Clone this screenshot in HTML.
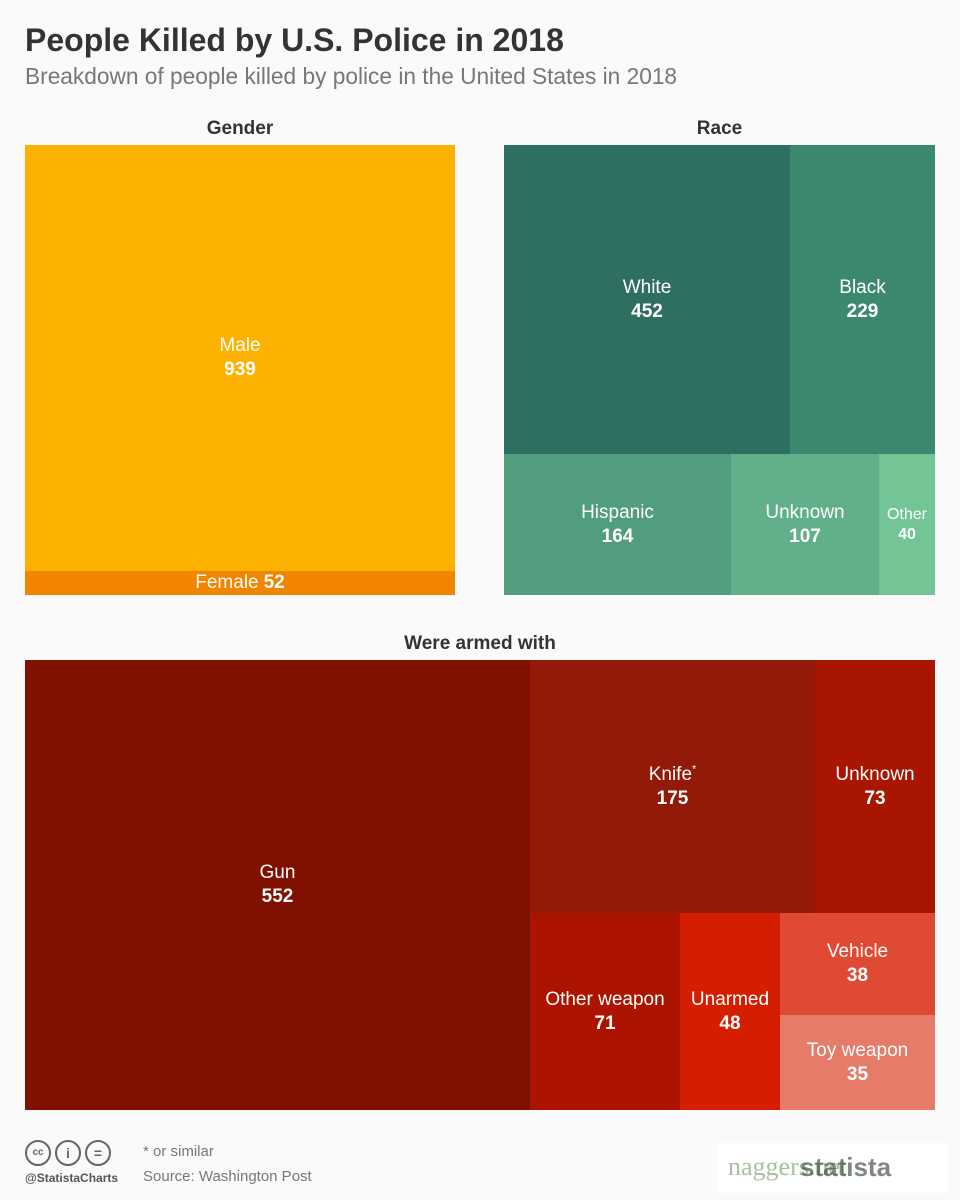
<!DOCTYPE html>
<html><head><meta charset="utf-8"><style>
body{margin:0;width:960px;height:1200px;background:#fafafa;font-family:"Liberation Sans",sans-serif;position:relative;overflow:hidden}
.a{position:absolute}
.b{position:absolute;color:#fff;display:flex;flex-direction:column;align-items:center;justify-content:center;text-align:center;font-size:19px;line-height:24px}
.b b{font-size:19px}
.h{position:absolute;font-weight:bold;font-size:19px;color:#333;text-align:center}
</style></head><body>
<div class="a" style="left:25px;top:22px;font-size:32px;font-weight:bold;color:#333">People Killed by U.S. Police in 2018</div>
<div class="a" style="left:25px;top:63px;font-size:22.7px;color:#777">Breakdown of people killed by police in the United States in 2018</div>
<div class="h" style="left:25px;width:430px;top:118px">Gender</div>
<div class="h" style="left:504px;width:431px;top:118px">Race</div>
<div class="h" style="left:25px;width:910px;top:633px">Were armed with</div>

<div class="b" style="left:25px;top:145px;width:430px;height:426px;background:#fdb100"><span>Male</span><b>939</b></div>
<div class="b" style="left:25px;top:571px;width:430px;height:24px;background:#f28500;flex-direction:row;gap:5px"><span>Female</span><b>52</b></div>

<div class="b" style="left:504px;top:145px;width:286px;height:309px;background:#2f6f62"><span>White</span><b>452</b></div>
<div class="b" style="left:790px;top:145px;width:145px;height:309px;background:#3d8870"><span>Black</span><b>229</b></div>
<div class="b" style="left:504px;top:454px;width:227px;height:141px;background:#529d7e"><span>Hispanic</span><b>164</b></div>
<div class="b" style="left:731px;top:454px;width:148px;height:141px;background:#62b08a"><span>Unknown</span><b>107</b></div>
<div class="b" style="left:879px;top:454px;width:56px;height:141px;background:#74c596;font-size:16px;line-height:20px"><span>Other</span><b style="font-size:16px">40</b></div>

<div class="b" style="left:25px;top:660px;width:505px;height:450px;background:#801000"><span>Gun</span><b>552</b></div>
<div class="b" style="left:530px;top:660px;width:285px;height:253px;background:#931909"><span>Knife<sup style="font-size:11px;line-height:0">*</sup></span><b>175</b></div>
<div class="b" style="left:815px;top:660px;width:120px;height:253px;background:#a81500"><span>Unknown</span><b>73</b></div>
<div class="b" style="left:530px;top:913px;width:150px;height:197px;background:#ac1400"><span>Other weapon</span><b>71</b></div>
<div class="b" style="left:680px;top:913px;width:100px;height:197px;background:#d51d00"><span>Unarmed</span><b>48</b></div>
<div class="b" style="left:780px;top:913px;width:155px;height:102px;background:#e04a35"><span>Vehicle</span><b>38</b></div>
<div class="b" style="left:780px;top:1015px;width:155px;height:95px;background:#e57b68"><span>Toy weapon</span><b>35</b></div>

<div class="a" style="left:25px;top:1140px;display:flex;gap:4px">
<div style="width:22px;height:22px;border:2px solid #666;border-radius:50%;font-size:10px;font-weight:bold;color:#666;text-align:center;line-height:22px">cc</div>
<div style="width:22px;height:22px;border:2px solid #666;border-radius:50%;font-size:14px;font-weight:bold;color:#666;text-align:center;line-height:22px">i</div>
<div style="width:22px;height:22px;border:2px solid #666;border-radius:50%;font-size:14px;font-weight:bold;color:#666;text-align:center;line-height:22px">=</div>
</div>
<div class="a" style="left:25px;top:1171px;font-size:12px;font-weight:bold;color:#555">@StatistaCharts</div>
<div class="a" style="left:143px;top:1143px;font-size:15px;color:#777">* or similar</div>
<div class="a" style="left:143px;top:1168px;font-size:15px;color:#777">Source: Washington Post</div>
<div class="a" style="left:718px;top:1143px;width:230px;height:50px;background:#fff"></div>
<div class="a" style="left:728px;top:1152px;font-family:'Liberation Serif',serif;font-size:26px;color:#a8c0a0">naggers.net</div>
<div class="a" style="left:800px;top:1152px;font-size:26px;font-weight:bold;color:#2a3a2a;opacity:.6">statista</div>
</body></html>
